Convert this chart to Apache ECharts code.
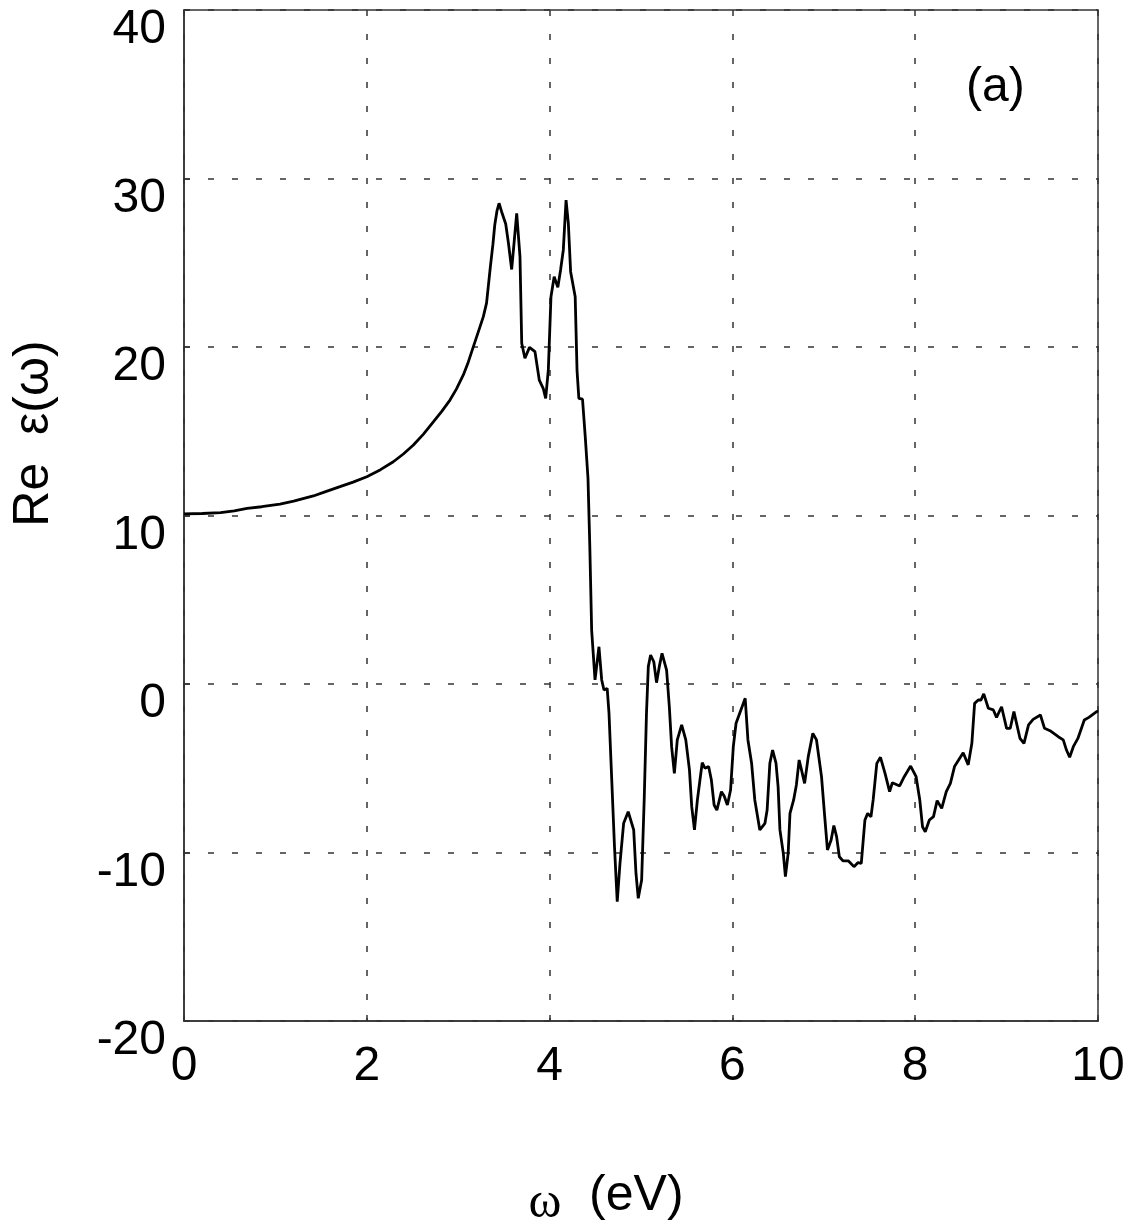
<!DOCTYPE html>
<html>
<head>
<meta charset="utf-8">
<script src="https://cdn.jsdelivr.net/npm/echarts@6/dist/echarts.min.js"></script>
<style>
html,body{margin:0;padding:0;background:#fff;}
#chart{width:1129px;height:1228px;}
</style>
</head>
<body>
<div id="chart"></div>
<script>
// photon energy omega (eV)
var omega = [
0, 0.2, 0.4, 0.55, 0.69, 0.85, 1.05, 1.2, 1.415, 1.55, 1.707, 1.85, 2.0, 2.15, 2.29, 2.4, 2.51, 2.62, 2.73, 2.82,
2.91, 2.98, 3.056, 3.11, 3.166, 3.22, 3.275, 3.31, 3.35, 3.38, 3.40, 3.425, 3.447, 3.475, 3.52,
3.55, 3.585, 3.614, 3.64, 3.676, 3.695, 3.73, 3.78, 3.84, 3.887, 3.93, 3.957, 3.986, 4.015, 4.05, 4.09, 4.12, 4.15, 4.18, 4.205,
4.23, 4.28, 4.30, 4.32, 4.36, 4.39, 4.42, 4.44, 4.46, 4.497, 4.54, 4.57, 4.595, 4.63, 4.65, 4.68, 4.71, 4.74, 4.77, 4.81,
4.86, 4.92, 4.945, 4.97, 5.007, 5.036, 5.06, 5.08, 5.105, 5.14, 5.17, 5.20, 5.23, 5.28, 5.31, 5.335, 5.365, 5.397, 5.445, 5.49,
5.53, 5.555, 5.585, 5.617, 5.645, 5.67, 5.70, 5.74, 5.77, 5.80, 5.83, 5.88, 5.91, 5.945, 5.98, 6.01, 6.04, 6.08, 6.14, 6.17,
6.21, 6.245, 6.30, 6.356, 6.38, 6.41, 6.44, 6.477, 6.50, 6.52, 6.557, 6.58, 6.61, 6.63, 6.67, 6.70, 6.73, 6.756, 6.79, 6.83,
6.88, 6.92, 6.975, 7.01, 7.04, 7.08, 7.11, 7.14, 7.17, 7.21, 7.27, 7.33, 7.375, 7.41, 7.45, 7.48, 7.516, 7.54, 7.58, 7.62,
7.67, 7.72, 7.75, 7.83, 7.88, 7.95, 8.01, 8.05, 8.08, 8.11, 8.155, 8.2, 8.24, 8.29, 8.34, 8.385, 8.43, 8.525, 8.58, 8.62,
8.65, 8.69, 8.72, 8.75, 8.80, 8.855, 8.89, 8.945, 9.0, 9.04, 9.08, 9.146, 9.19, 9.24, 9.29, 9.37, 9.415, 9.475, 9.565, 9.62,
9.655, 9.69, 9.73, 9.78, 9.85, 9.90, 9.985, 10.0
];
// Re epsilon(omega)
var reEps = [
10.1, 10.12, 10.17, 10.28, 10.42, 10.52, 10.68, 10.85, 11.16, 11.42, 11.71, 11.98, 12.3, 12.72, 13.19, 13.65, 14.18, 14.83, 15.57, 16.18,
16.85, 17.5, 18.34, 19.1, 20.02, 20.9, 21.8, 22.6, 24.67, 26.1, 27.24, 28.1, 28.53, 28.03, 27.3,
26.15, 24.6, 26.35, 27.93, 25.36, 20.22, 19.33, 19.98, 19.72, 18.04, 17.55, 16.95, 18.63, 22.98, 24.17, 23.54, 24.57, 25.76, 28.72, 27.34,
24.47, 22.98, 18.63, 16.95, 16.9, 14.68, 12.21, 8.15, 3.2, 0.24, 2.21, 0.24, -0.36, -0.26, -1.74, -5.7, -9.66, -12.92, -10.64, -8.27,
-7.58, -8.66, -11.23, -12.72, -11.63, -6.69, -1.74, 1.03, 1.72, 1.32, 0.08, 1.03, 1.82, 0.83, -1.35, -3.72, -5.3, -3.32, -2.43, -3.32,
-5.1, -7.28, -8.66, -6.88, -5.7, -4.67, -5.0, -4.9, -5.7, -7.18, -7.48, -6.39, -6.65, -7.18, -6.29, -3.72, -2.33, -1.74, -0.85, -3.32,
-4.7, -6.88, -8.66, -8.27, -7.48, -4.7, -3.92, -4.7, -6.09, -8.66, -10.05, -11.43, -10.05, -7.68, -6.88, -5.99, -4.51, -5.1, -5.9, -4.31,
-2.93, -3.32, -5.5, -7.87, -9.85, -9.26, -8.4, -9.06, -10.25, -10.5, -10.5, -10.84, -10.6, -10.64, -8.07, -7.68, -7.88, -6.88, -4.71, -4.35,
-5.3, -6.39, -5.86, -6.05, -5.5, -4.87, -5.5, -6.88, -8.47, -8.77, -8.07, -7.87, -6.92, -7.38, -6.39, -5.9, -4.9, -4.08, -4.8, -3.52,
-1.15, -0.95, -0.95, -0.59, -1.44, -1.54, -1.98, -1.35, -2.63, -2.63, -1.64, -3.22, -3.52, -2.43, -2.1, -1.84, -2.63, -2.77, -3.13, -3.32,
-3.92, -4.35, -3.72, -3.23, -2.14, -1.98, -1.64, -1.6
];
var xTicks = [0, 2, 4, 6, 8, 10];
var yTicks = [-20, -10, 0, 10, 20, 30, 40];
var panelLabel = '(a)';

var seriesData = omega.map(function (w, i) { return [w, reEps[i]]; });
var sans = "'Liberation Sans', Arial, Helvetica, sans-serif";
var serif = "'Liberation Serif', 'Times New Roman', serif";
var gridLine = { show: true, lineStyle: { color: '#333', width: 1.5, type: [6, 18] } };

var chart = echarts.init(document.getElementById('chart'), null, { renderer: 'canvas' });
chart.setOption({
  backgroundColor: '#fff',
  animation: false,
  grid: {
    left: 184, right: 31, top: 10, bottom: 207, containLabel: false, outerBoundsMode: 'none',
    show: true, borderColor: '#333', borderWidth: 1.5, backgroundColor: 'transparent'
  },
  xAxis: {
    type: 'value', min: xTicks[0], max: xTicks[xTicks.length - 1], interval: 2,
    axisLine: { show: true, onZero: false, lineStyle: { color: '#333', width: 1.5 } },
    axisTick: { show: true, inside: true, length: 6, lineStyle: { color: '#333', width: 1.5 } },
    axisLabel: { fontFamily: sans, fontSize: 48, color: '#000', margin: 22 },
    splitLine: gridLine,
    name: '{w|ω}{s|  (eV)}',
    nameLocation: 'middle',
    nameGap: 150,
    nameTextStyle: {
      padding: [0, 70, 0, 0],
      rich: {
        w: { fontFamily: serif, fontSize: 50, color: '#000', verticalAlign: 'bottom' },
        s: { fontFamily: sans, fontSize: 50, color: '#000', verticalAlign: 'bottom', padding: [0, 0, 8, 0] }
      }
    }
  },
  yAxis: {
    type: 'value', min: yTicks[0], max: yTicks[yTicks.length - 1], interval: 10,
    axisLine: { show: true, onZero: false, lineStyle: { color: '#333', width: 1.5 } },
    axisTick: { show: true, inside: true, length: 6, lineStyle: { color: '#333', width: 1.5 } },
    axisLabel: { fontFamily: sans, fontSize: 48, color: '#000', margin: 18, verticalAlign: 'top', padding: [-4, 0, 0, 0] },
    splitLine: gridLine,
    name: 'Re  ε(ω)',
    nameLocation: 'middle',
    nameGap: 125,
    nameTextStyle: { fontFamily: sans, fontSize: 50, color: '#000', padding: [0, 0, 0, 164] }
  },
  graphic: [{
    type: 'text', left: 966, top: 64,
    style: { text: panelLabel, font: '48px ' + sans, fill: '#000' }
  }],
  series: [{
    type: 'line', data: seriesData, showSymbol: false, symbol: 'none',
    lineStyle: { color: '#000', width: 2.8 }, smooth: false, clip: true
  }]
});
</script>
</body>
</html>
